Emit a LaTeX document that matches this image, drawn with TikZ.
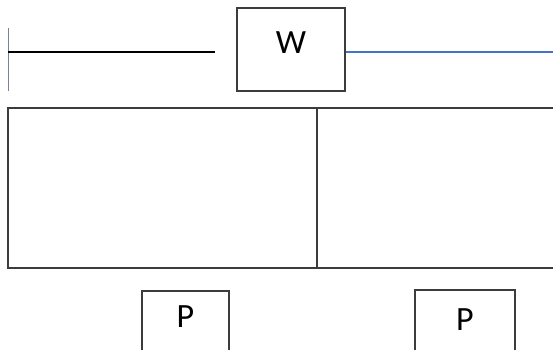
\documentclass[tikz,border=0pt]{standalone}
\usepackage{fontspec}
\setmainfont{Carlito}
\definecolor{boxline}{RGB}{60,60,60}
\definecolor{offblue}{RGB}{68,114,196}
\definecolor{tickcol}{RGB}{120,130,160}
\begin{document}
\begin{tikzpicture}[x=1pt,y=-1pt,
  lbl/.style={draw=boxline,line width=1.1pt,inner sep=0pt},
  txt/.style={font=\fontsize{34}{38}\selectfont,inner sep=0pt},
  wire/.style={line width=2pt}]
\useasboundingbox (0,0) rectangle (553,349);
\clip (0,0) rectangle (553,349);
\fill[white] (0,0) rectangle (553,349);
% W box
\node[lbl,minimum width=108pt,minimum height=83pt] (w) at (291,49.5) {};
\node[txt] (wt) at (291,43) {W};
% left tick and black wire
\coordinate (tt) at (8,28);
\coordinate (tb) at (8,91);
\draw[tickcol,line width=1pt] (tt) -- (tb);
\coordinate (ls) at (8,52);
\coordinate (le) at (215,52);
\draw[wire,black] (ls) -- (le);
% blue wire
\coordinate (re) at (560,52);
\draw[offblue,line width=2pt] (w.east |- re) -- (re);
% big rectangle with divider
\draw[boxline,line width=1.2pt] (8,108) rectangle (570,268);
\draw[boxline,line width=1.2pt] (317,108) -- (317,268);
% P boxes
\node[lbl,minimum width=87pt,minimum height=70pt] (p1) at (185.5,326) {};
\node[txt] (p1t) at (185.5,317) {P};
\node[lbl,minimum width=100pt,minimum height=70pt] (p2) at (465,325) {};
\node[txt] (p2t) at (465,320) {P};
\end{tikzpicture}
\end{document}
